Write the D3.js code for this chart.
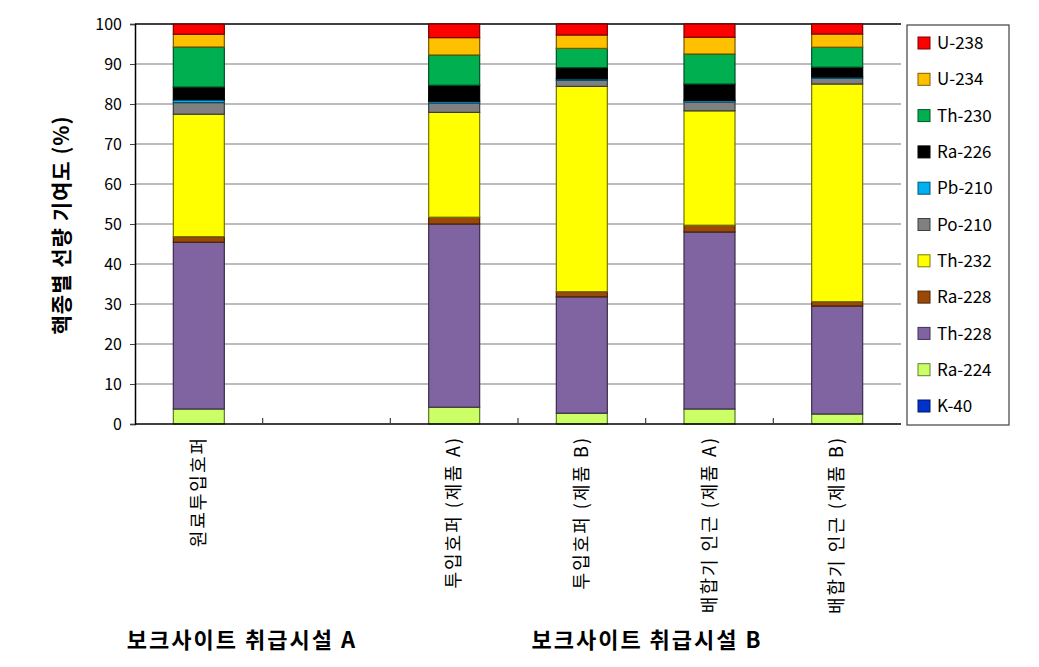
<!DOCTYPE html>
<html><head><meta charset="utf-8">
<script src="https://cdn.jsdelivr.net/npm/d3@7/dist/d3.min.js"></script>
<style>body{margin:0;background:#fff;} svg{display:block;}</style>
</head><body>
<svg id="c" width="1039" height="667"></svg>
<script>
const categories = ["원료투입호퍼", "", "투입호퍼 (제품 A)", "투입호퍼 (제품 B)", "배합기 인근 (제품 A)", "배합기 인근 (제품 B)"];
const nuclides = ["K-40","Ra-224","Th-228","Ra-228","Th-232","Po-210","Pb-210","Ra-226","Th-230","U-234","U-238"];
const legendOrder = ["U-238","U-234","Th-230","Ra-226","Pb-210","Po-210","Th-232","Ra-228","Th-228","Ra-224","K-40"];
const colors = {"U-238":"#FF0000","U-234":"#FFC000","Th-230":"#00B050","Ra-226":"#000000","Pb-210":"#00B0F0","Po-210":"#808080","Th-232":"#FFFF00","Ra-228":"#9A4A06","Th-228":"#8064A2","Ra-224":"#CCFF66","K-40":"#0033CC"};
// values per category (same order as categories; null = empty slot)
const v_K40   = [0, null, 0, 0, 0, 0];
const v_Ra224 = [3.75, null, 4.2, 2.7, 3.75, 2.5];
const v_Th228 = [41.7, null, 45.8, 29.1, 44.25, 27.0];
const v_Ra228 = [1.4, null, 1.7, 1.3, 1.7, 1.1];
const v_Th232 = [30.6, null, 26.2, 51.3, 28.6, 54.4];
const v_Po210 = [2.9, null, 2.35, 1.5, 2.2, 1.4];
const v_Pb210 = [0.7, null, 0.45, 0.4, 0.4, 0.35];
const v_Ra226 = [3.2, null, 4.0, 2.8, 4.1, 2.45];
const v_Th230 = [10.0, null, 7.55, 4.8, 7.5, 5.0];
const v_U234  = [3.2, null, 4.35, 3.35, 4.2, 3.3];
const v_U238  = [2.5, null, 3.4, 2.75, 3.3, 2.5];
const yTicks = [0,10,20,30,40,50,60,70,80,90,100];
const groupLabels = ["보크사이트 취급시설 A", "보크사이트 취급시설 B"];

const seriesVals = {"K-40":v_K40,"Ra-224":v_Ra224,"Th-228":v_Th228,"Ra-228":v_Ra228,"Th-232":v_Th232,"Po-210":v_Po210,"Pb-210":v_Pb210,"Ra-226":v_Ra226,"Th-230":v_Th230,"U-234":v_U234,"U-238":v_U238};
const rows = categories.map((c,i)=>{const r={key:i,cat:c}; nuclides.forEach(n=>r[n]=seriesVals[n][i]||0); r.empty = seriesVals["Ra-224"][i]==null; return r;});

const svg = d3.select("#c");
const font = "'Noto Sans CJK KR','Noto Sans',sans-serif";
const L=135, R=901, T=24, B=424;
const x = d3.scaleBand().domain(d3.range(categories.length)).range([L,R]).paddingInner(0).paddingOuter(0);
const y = d3.scaleLinear().domain([0,100]).range([B,T]);
const barW = 51;

// gridlines
svg.append("g").selectAll("line").data(yTicks.filter(t=>t>0)).join("line")
  .attr("x1",L).attr("x2",R).attr("y1",d=>y(d)).attr("y2",d=>y(d))
  .attr("stroke",d=>d===100?"#404040":"#A6A6A6").attr("stroke-width",d=>d===100?2:1.5);

// stacks
const stack = d3.stack().keys(nuclides);
const layers = stack(rows.filter(r=>!r.empty));
svg.append("g").selectAll("g").data(layers).join("g")
  .attr("fill",d=>colors[d.key])
  .attr("stroke",d=>d3.color(colors[d.key]).darker(2.2))
  .selectAll("rect").data(d=>d.filter(s=>s[1]-s[0]>0)).join("rect")
  .attr("x",d=>x(d.data.key)+x.bandwidth()/2-barW/2)
  .attr("width",barW)
  .attr("y",d=>y(d[1]))
  .attr("height",d=>y(d[0])-y(d[1]))
  .attr("stroke-width",1.2);

// axes
const yAxis = svg.append("g").attr("transform",`translate(${L},0)`)
  .call(d3.axisLeft(y).tickValues(yTicks).tickSize(5).tickPadding(8));
yAxis.select(".domain").attr("stroke","#000").attr("stroke-width",1.5);
yAxis.selectAll(".tick line").attr("stroke","#404040");
yAxis.selectAll("text").attr("font-family",font).attr("font-size",16).attr("fill","#000");

// x axis line + ticks at boundaries
svg.append("line").attr("x1",L).attr("x2",R).attr("y1",B).attr("y2",B).attr("stroke","#000").attr("stroke-width",1.5);
svg.append("g").selectAll("line").data(d3.range(1,categories.length)).join("line")
  .attr("x1",d=>x(d)).attr("x2",d=>x(d)).attr("y1",B).attr("y2",B-6)
  .attr("stroke","#404040").attr("stroke-width",1.2);

// x labels
svg.append("g").selectAll("text").data(rows.filter(r=>r.cat)).join("text")
  .attr("transform",d=>`translate(${x(d.key)+x.bandwidth()/2},436) rotate(-90)`)
  .attr("text-anchor","end").attr("dy","0.35em")
  .attr("font-family",font).attr("font-size",18).attr("letter-spacing","2px").attr("fill","#000")
  .text(d=>d.cat);

// y title
svg.append("text").attr("transform","translate(62,225) rotate(-90)")
  .attr("text-anchor","middle").attr("dy","0.35em")
  .attr("font-family",font).attr("font-size",21).attr("letter-spacing","1px").attr("font-weight","bold")
  .text("핵종별 선량 기여도 (%)");

// group labels
const gx = [242, 647];
svg.append("g").selectAll("text").data(groupLabels).join("text")
  .attr("x",(d,i)=>gx[i]).attr("y",648).attr("text-anchor","middle")
  .attr("font-family",font).attr("font-size",22).attr("letter-spacing","2px").attr("font-weight","bold")
  .text(d=>d);

// legend
const lg = svg.append("g");
lg.append("rect").attr("x",907).attr("y",25).attr("width",102).attr("height",400)
  .attr("fill","#fff").attr("stroke","#404040").attr("stroke-width",1.2);
const ly = d3.scalePoint().domain(legendOrder).range([43,406]);
const items = lg.selectAll("g.it").data(legendOrder).join("g").attr("class","it")
  .attr("transform",d=>`translate(918,${ly(d)})`);
items.append("rect").attr("x",0).attr("y",-6).attr("width",12).attr("height",12)
  .attr("fill",d=>colors[d]).attr("stroke",d=>d3.color(colors[d]).darker(2)).attr("stroke-width",1);
items.append("text").attr("x",19).attr("dy","0.36em")
  .attr("font-family",font).attr("font-size",17).attr("fill","#000").text(d=>d);
</script>
</body></html>
